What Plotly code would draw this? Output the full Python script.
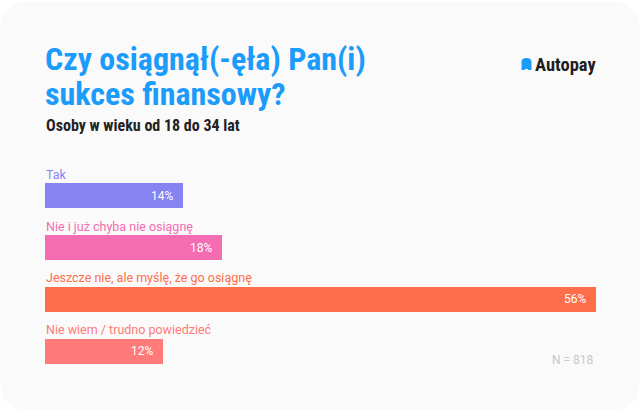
import plotly.graph_objects as go

categories = ["Tak", "Nie i już chyba nie osiągnę", "Jeszcze nie, ale myślę, że go osiągnę", "Nie wiem / trudno powiedzieć"]
values = [14, 18, 56, 12]
value_labels = ["14%", "18%", "56%", "12%"]
colors = ["#8584f2", "#f46cb1", "#fe6e4a", "#ff7b79"]

title_line1 = "Czy osiągnął(-ęła) Pan(i)"
title_line2 = "sukces finansowy?"
subtitle = "Osoby w wieku od 18 do 34 lat"
brand = "Autopay"
note = "N = 818"

W, H = 640, 411
L, R, T, B = 45, 596, 169.5, 377.5

def px(x):
    return (x - L) / (R - L)

def py(y):
    return (B - y) / (B - T)

fig = go.Figure()
fig.add_trace(go.Bar(
    x=values, y=categories, orientation="h",
    marker=dict(color=colors, line=dict(width=0)),
    width=0.48, hoverinfo="skip",
))

ann = []
for c, v, t, col in zip(categories, values, value_labels, colors):
    ann.append(dict(x=0, y=c, xref="x", yref="y", text=c, showarrow=False,
                    xanchor="left", yanchor="middle", yshift=21.5, xshift=-1,
                    font=dict(family="Roboto", size=12.5, color=col)))
    ann.append(dict(x=v, y=c, xref="x", yref="y", text=t, showarrow=False,
                    xanchor="right", yanchor="middle", xshift=-8,
                    font=dict(family="Roboto", size=12, color="white")))

cond = "Roboto Condensed, DejaVu Sans Condensed, Liberation Sans Narrow"
ann.append(dict(x=px(43), y=py(57.5), xref="paper", yref="paper", text=title_line1, showarrow=False,
                xanchor="left", yanchor="middle",
                font=dict(family=cond, size=32, color="#1b9cfb", weight="bold")))
ann.append(dict(x=px(43), y=py(93.5), xref="paper", yref="paper", text=title_line2, showarrow=False,
                xanchor="left", yanchor="middle",
                font=dict(family=cond, size=32, color="#1b9cfb", weight="bold")))
ann.append(dict(x=px(44), y=py(125), xref="paper", yref="paper", text=subtitle, showarrow=False,
                xanchor="left", yanchor="middle",
                font=dict(family=cond, size=16, color="#222222", weight="bold")))
ann.append(dict(x=px(533), y=py(64), xref="paper", yref="paper", text=brand, showarrow=False,
                xanchor="left", yanchor="middle",
                font=dict(family=cond, size=18.5, color="#1e1e1e", weight="bold")))
ann.append(dict(x=px(596), y=py(360), xref="paper", yref="paper", text=note, showarrow=False,
                xanchor="right", yanchor="middle",
                font=dict(family="Roboto", size=12, color="#c8c8c8")))

# rounded card background
r = 30
def pt(x, y):
    return f"{px(x)} {py(y)}"
card = (f"M {pt(r,0)} L {pt(W-r,0)} Q {pt(W,0)} {pt(W,r)} L {pt(W,H-r)} Q {pt(W,H)} {pt(W-r,H)} "
        f"L {pt(r,H)} Q {pt(0,H)} {pt(0,H-r)} L {pt(0,r)} Q {pt(0,0)} {pt(r,0)} Z")
# logo icon (arch)
icon = (f"M {pt(521.5,69)} L {pt(521.5,61)} Q {pt(521.5,57)} {pt(526.5,57)} Q {pt(531.5,57)} {pt(531.5,61)} "
        f"L {pt(531.5,69)} L {pt(528.5,69)} Q {pt(526.5,66.5)} {pt(524.5,69)} Z")
shapes = [
    dict(type="path", path=card, xref="paper", yref="paper", fillcolor="#fafafa", line=dict(width=0), layer="below"),
    dict(type="path", path=icon, xref="paper", yref="paper", fillcolor="#1b9cfb", line=dict(width=0)),
]

fig.update_layout(
    width=W, height=H,
    margin=dict(l=L, r=W - R, t=T, b=H - B, pad=0),
    paper_bgcolor="white", plot_bgcolor="rgba(0,0,0,0)",
    showlegend=False, annotations=ann, shapes=shapes,
    xaxis=dict(range=[0, 56], visible=False, fixedrange=True),
    yaxis=dict(categoryorder="array", categoryarray=categories, range=[3.5, -0.5],
               visible=False, fixedrange=True),
    bargap=0,
)
fig.write_html("out.html", config={"displayModeBar": False},
               post_script="document.body.style.margin='0';document.body.style.overflow='hidden';")
